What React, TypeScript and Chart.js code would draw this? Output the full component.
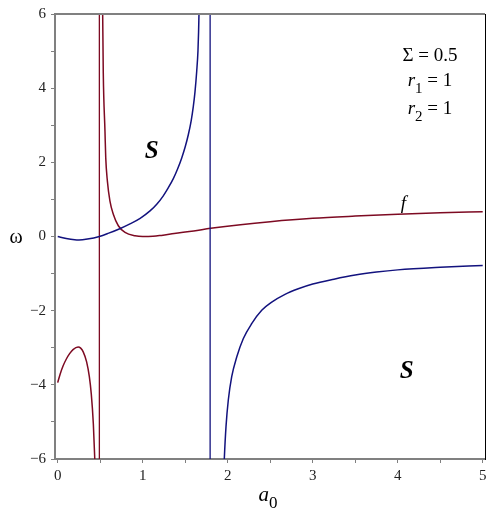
import React, { useEffect, useRef } from 'react';
import { Chart, registerables } from 'chart.js';

Chart.register(...registerables);

// ---- tick values ----
const xTickValues = [0, 0.5, 1, 1.5, 2, 2.5, 3, 3.5, 4, 4.5, 5];
const yTickValues = [-6, -5, -4, -3, -2, -1, 0, 1, 2, 3, 4, 5, 6];

// ---- red curve (f) ----
const redLowerX = [0, 0.03, 0.065, 0.1, 0.14, 0.18, 0.24, 0.27, 0.3, 0.34, 0.372, 0.395, 0.419, 0.436, 0.444];
const redLowerY = [-3.94, -3.7, -3.48, -3.31, -3.16, -3.05, -2.98, -3.01, -3.11, -3.38, -3.78, -4.25, -5.05, -6.0, -6.6];
const redUpperX = [0.527, 0.529, 0.536, 0.556, 0.565, 0.584, 0.614, 0.654, 0.713, 0.792, 0.91, 1.0, 1.066, 1.22, 1.37, 1.6, 1.8, 2.15, 2.5, 3.0, 3.5, 4.0, 4.5, 5.0];
const redUpperY = [6.5, 6.0, 4.41, 2.84, 2.12, 1.5, 0.96, 0.6, 0.29, 0.11, 0.02, 0.0, 0.0, 0.03, 0.08, 0.15, 0.22, 0.32, 0.4, 0.49, 0.55, 0.6, 0.64, 0.67];
const redPoleX = 0.49;

// ---- blue curve ----
const blueUpperX = [0, 0.1, 0.2, 0.25, 0.35, 0.49, 0.6, 0.73, 0.85, 0.97, 1.086, 1.165, 1.24, 1.3, 1.36, 1.41, 1.459, 1.5, 1.537, 1.57, 1.595, 1.615, 1.635, 1.65, 1.657, 1.662, 1.67];
const blueUpperY = [0, -0.055, -0.09, -0.095, -0.07, 0, 0.09, 0.21, 0.34, 0.49, 0.69, 0.87, 1.09, 1.31, 1.56, 1.82, 2.12, 2.42, 2.75, 3.12, 3.5, 3.9, 4.45, 5.0, 5.5, 6.0, 6.8];
const blueLowerX = [1.955, 1.96, 1.98, 2.007, 2.047, 2.106, 2.184, 2.282, 2.4, 2.518, 2.674, 2.83, 3.0, 3.25, 3.5, 3.75, 4.0, 4.5, 5.0];
const blueLowerY = [-6.3, -5.99, -5.12, -4.41, -3.78, -3.25, -2.75, -2.35, -1.99, -1.77, -1.56, -1.41, -1.28, -1.15, -1.04, -0.96, -0.9, -0.83, -0.78];
const bluePoleX = 1.793;
const poleSpanY = [-6, 6];

// ---- annotation texts ----
const regionLabel = 'S';
const curveLabel = 'f';
const paramSigma = ['Σ', ' = 0.5'];
const paramR1 = ['r', '1', ' = 1'];
const paramR2 = ['r', '2', ' = 1'];
const xAxisTitle = ['a', '0'];
const yAxisTitle = 'ω';

const RED = '#7d0a22';
const BLUE = '#12127e';
const SERIF = "'Liberation Serif', 'Times New Roman', serif";

const pts = (xs: number[], ys: number[]) => xs.map((x, i) => ({ x, y: ys[i] }));

type Run = { t: string; font: string; dy?: number };
function drawRuns(ctx: CanvasRenderingContext2D, runs: Run[], cx: number, baseY: number) {
  let total = 0;
  runs.forEach((r) => {
    ctx.font = r.font;
    total += ctx.measureText(r.t).width;
  });
  let xx = cx - total / 2;
  ctx.textAlign = 'left';
  ctx.textBaseline = 'alphabetic';
  runs.forEach((r) => {
    ctx.font = r.font;
    ctx.fillText(r.t, xx, baseY + (r.dy || 0));
    xx += ctx.measureText(r.t).width;
  });
}

const overlayPlugin = {
  id: 'overlay',
  afterDraw(chart: any) {
    const { ctx, chartArea } = chart;
    const xs = chart.scales.x;
    const ys = chart.scales.y;
    ctx.save();
    // frame: top gray, right black
    ctx.strokeStyle = '#808080';
    ctx.lineWidth = 2;
    ctx.beginPath();
    ctx.moveTo(chartArea.left - 1, chartArea.top);
    ctx.lineTo(chartArea.right, chartArea.top);
    ctx.stroke();
    ctx.strokeStyle = '#000';
    ctx.lineWidth = 1;
    ctx.beginPath();
    ctx.moveTo(chartArea.right + 0.5, chartArea.top);
    ctx.lineTo(chartArea.right + 0.5, chartArea.bottom + 1);
    ctx.stroke();

    ctx.fillStyle = '#000';
    // region labels
    ctx.font = `italic bold 25px ${SERIF}`;
    ctx.textAlign = 'center';
    ctx.textBaseline = 'middle';
    ctx.fillText(regionLabel, xs.getPixelForValue(1.106), ys.getPixelForValue(2.3));
    ctx.fillText(regionLabel, xs.getPixelForValue(4.106), ys.getPixelForValue(-3.65));
    // curve label
    ctx.font = `italic 19px ${SERIF}`;
    ctx.fillText(curveLabel, xs.getPixelForValue(4.066), ys.getPixelForValue(0.87));

    // parameter block
    const f = `19px ${SERIF}`;
    const fi = `italic 19px ${SERIF}`;
    const fs = `15px ${SERIF}`;
    const cx = xs.getPixelForValue(4.38);
    drawRuns(ctx, [{ t: paramSigma[0], font: f }, { t: paramSigma[1], font: f }], cx, ys.getPixelForValue(4.72));
    drawRuns(ctx, [{ t: paramR1[0], font: fi }, { t: paramR1[1], font: fs, dy: 7 }, { t: paramR1[2], font: f }], cx, ys.getPixelForValue(4.05));
    drawRuns(ctx, [{ t: paramR2[0], font: fi }, { t: paramR2[1], font: fs, dy: 7 }, { t: paramR2[2], font: f }], cx, ys.getPixelForValue(3.3));

    // axis titles
    ctx.font = `20px ${SERIF}`;
    ctx.textAlign = 'center';
    ctx.textBaseline = 'alphabetic';
    ctx.fillText(yAxisTitle, 16, ys.getPixelForValue(0) + 6);
    drawRuns(
      ctx,
      [{ t: xAxisTitle[0], font: `italic 21px ${SERIF}` }, { t: xAxisTitle[1], font: `17px ${SERIF}`, dy: 7 }],
      (chartArea.left + chartArea.right) / 2 - 2,
      501
    );
    ctx.restore();
  },
};

export default function App() {
  const ref = useRef<HTMLCanvasElement | null>(null);
  useEffect(() => {
    if (!ref.current) return;
    const curve = (data: any, color: string) => ({
      data,
      borderColor: color,
      borderWidth: 1.5,
      pointRadius: 0,
      cubicInterpolationMode: 'monotone' as const,
      clip: 0,
    });
    const pole = (x: number, color: string) => ({
      data: poleSpanY.map((y) => ({ x, y })),
      borderColor: color,
      borderWidth: 1.3,
      pointRadius: 0,
      tension: 0,
      clip: 0,
    });
    const chart = new Chart(ref.current, {
      type: 'line',
      data: {
        datasets: [
          curve(pts(blueUpperX, blueUpperY), BLUE),
          pole(bluePoleX, BLUE),
          curve(pts(blueLowerX, blueLowerY), BLUE),
          curve(pts(redLowerX, redLowerY), RED),
          pole(redPoleX, RED),
          curve(pts(redUpperX, redUpperY), RED),
        ] as any,
      },
      options: {
        animation: false,
        responsive: false,
        events: [],
        layout: { padding: { top: 12, right: 8, left: 0, bottom: 0 } },
        plugins: { legend: { display: false }, tooltip: { enabled: false } },
        scales: {
          x: {
            type: 'linear',
            min: -0.032,
            max: 5.027,
            afterBuildTicks: (s: any) => {
              s.ticks = xTickValues.map((value) => ({ value }));
            },
            afterFit: (s: any) => {
              s.height = 59;
            },
            grid: { drawOnChartArea: false, color: '#808080', tickLength: 4, tickWidth: 1 },
            border: { color: '#808080', width: 2 },
            ticks: {
              autoSkip: false,
              maxRotation: 0,
              padding: 4,
              color: '#222',
              font: { family: SERIF, size: 15 },
              callback: (v: any) => (Number.isInteger(v) ? String(v) : ''),
            },
          },
          y: {
            type: 'linear',
            min: -6,
            max: 6,
            afterBuildTicks: (s: any) => {
              s.ticks = yTickValues.map((value) => ({ value }));
            },
            afterFit: (s: any) => {
              s.width = 55;
            },
            grid: { drawOnChartArea: false, color: '#808080', tickLength: 4, tickWidth: 1 },
            border: { color: '#808080', width: 2 },
            ticks: {
              autoSkip: false,
              padding: 5,
              color: '#222',
              font: { family: SERIF, size: 15 },
              callback: (v: any) => (v % 2 === 0 ? (v < 0 ? '−' + Math.abs(v) : String(v)) : ''),
            },
          },
        },
      },
      plugins: [overlayPlugin],
    } as any);
    return () => chart.destroy();
  }, []);
  return (
    <div style={{ position: 'fixed', left: 0, top: 0, width: 493, height: 518, background: '#fff' }}>
      <canvas ref={ref} width={493} height={518} style={{ width: 493, height: 518, display: 'block' }} />
    </div>
  );
}
